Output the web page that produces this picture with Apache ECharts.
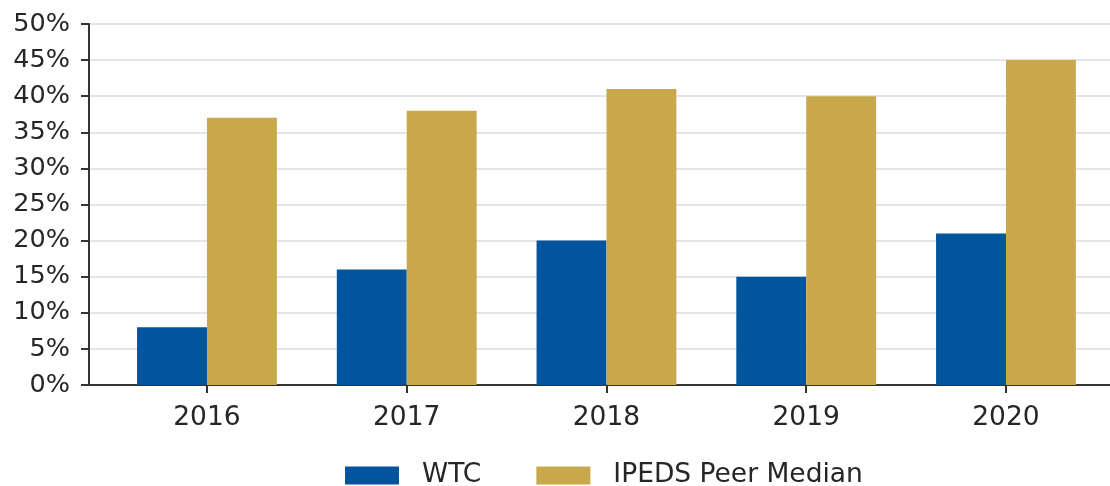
<!DOCTYPE html>
<html>
<head>
<meta charset="utf-8">
<script src="https://cdn.jsdelivr.net/npm/echarts@6/dist/echarts.min.js"></script>
<style>
  html, body { margin: 0; padding: 0; background: #fff; }
  #chart { width: 1110px; height: 486px; }
</style>
</head>
<body>
<div id="chart"></div>
<script>
// chart data
const years = ['2016', '2017', '2018', '2019', '2020']
const wtc = [8, 16, 20, 15, 21]
const peerMedian = [37, 38, 41, 40, 45]
const yTicks = [0, 5, 10, 15, 20, 25, 30, 35, 40, 45, 50]

const font = 'DejaVu Sans'
const fontSize = 26.5
const textColor = '#262626'
const axisColor = '#333333'

const chart = echarts.init(document.getElementById('chart'))
chart.setOption({
  animation: false,
  textStyle: { fontFamily: font },
  legend: {
    left: 345,
    top: 462,
    padding: 0,
    itemWidth: 54,
    itemHeight: 18,
    itemGap: 55,
    icon: 'rect',
    textStyle: {
      fontFamily: font,
      fontSize: fontSize,
      color: textColor,
      padding: [0, 0, 0, 18]
    },
    data: ['WTC', 'IPEDS Peer Median']
  },
  // grid 0 draws the frame (axis lines + gridlines), grid 1 places the bars
  grid: [
    { left: 89, right: 0, top: 24, bottom: 101 },
    { left: 107.1, width: 998.75, top: 24, bottom: 101 }
  ],
  xAxis: [{
    gridIndex: 0,
    type: 'value',
    min: 0,
    max: 1,
    axisLine: { show: true, onZero: false, lineStyle: { color: axisColor, width: 2 } },
    axisTick: { show: false },
    axisLabel: { show: false },
    splitLine: { show: false }
  }, {
    gridIndex: 1,
    type: 'category',
    data: years,
    axisLine: { show: false },
    axisTick: {
      show: true,
      alignWithLabel: true,
      length: 8,
      lineStyle: { color: axisColor, width: 2 }
    },
    axisLabel: {
      fontFamily: font,
      fontSize: fontSize,
      color: textColor,
      margin: 20
    }
  }],
  yAxis: [{
    gridIndex: 0,
    type: 'value',
    min: yTicks[0],
    max: yTicks[yTicks.length - 1],
    interval: 5,
    axisLine: { show: true, lineStyle: { color: axisColor, width: 2 } },
    axisTick: { show: true, length: 8, lineStyle: { color: axisColor, width: 2 } },
    axisLabel: {
      fontFamily: font,
      fontSize: 25.5,
      color: textColor,
      margin: 19,
      formatter: '{value}%'
    },
    splitLine: { show: true, lineStyle: { color: '#dddddd', width: 1.5 } }
  }, {
    gridIndex: 1,
    type: 'value',
    min: yTicks[0],
    max: yTicks[yTicks.length - 1],
    show: false
  }],
  series: [{
    name: 'WTC',
    type: 'bar',
    xAxisIndex: 1,
    yAxisIndex: 1,
    data: wtc,
    barGap: '0%',
    barCategoryGap: '30%',
    itemStyle: { color: '#02549c' }
  }, {
    name: 'IPEDS Peer Median',
    type: 'bar',
    xAxisIndex: 1,
    yAxisIndex: 1,
    data: peerMedian,
    barGap: '0%',
    barCategoryGap: '30%',
    itemStyle: { color: '#c9a84c' }
  }]
})
</script>
</body>
</html>
